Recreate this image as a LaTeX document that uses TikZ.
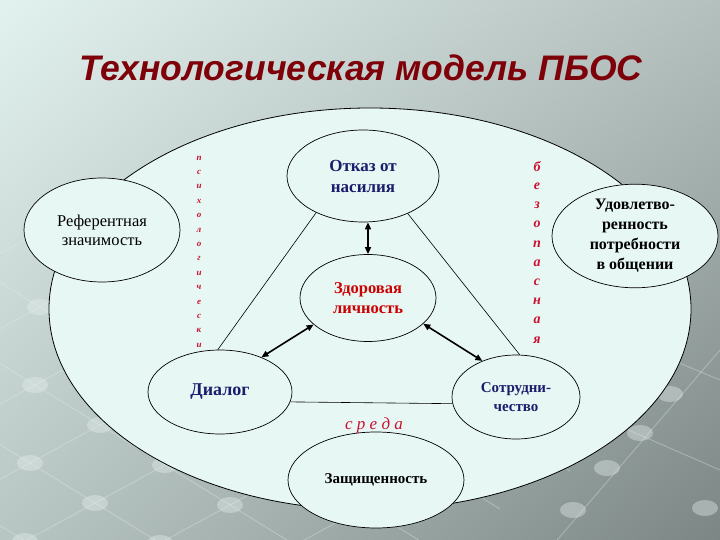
\documentclass[tikz,border=0pt]{standalone}
\usepackage{fontspec}
\setmainfont{Liberation Serif}
\newfontfamily\titlefont{Liberation Sans}
\usetikzlibrary{shapes.geometric,arrows.meta,calc,shadings}
\definecolor{bgmint}{HTML}{E2F2EE}
\definecolor{bggray}{HTML}{B4C0BE}
\definecolor{bgdark}{HTML}{7C8785}
\definecolor{bglow}{HTML}{B8C6C3}
\definecolor{fillmint}{HTML}{E6F7F4}
\definecolor{navy}{HTML}{1C1C6C}
\definecolor{redtxt}{HTML}{CC0000}
\definecolor{lettred}{HTML}{CC1030}
\definecolor{titlered}{HTML}{7E0008}
\definecolor{latt}{HTML}{E4EEEC}
\tikzset{
  ell/.style={ellipse, draw=black, line width=0.7pt, fill=fillmint, inner sep=0pt, align=center},
  tri/.style={draw=black, line width=0.6pt},
  dbl/.style={draw=black, line width=1.6pt, {Triangle[length=7pt,width=6pt]}-{Triangle[length=7pt,width=6pt]}},
  vlet/.style={text=lettred, font=\bfseries\itshape, inner sep=0pt},
  dot/.style={fill=latt, draw=none, opacity=0.4}
}
\begin{document}
\begin{tikzpicture}[x=1pt,y=-1pt]
\useasboundingbox (0,0) rectangle (720,540);
% background
\shade[upper left=bgmint, upper right=bggray, lower left=bglow, lower right=bgdark] (0,0) rectangle (720,540);
% lattice decoration
\begin{scope}[line width=0.9pt, draw=latt, opacity=0.35]
  \foreach \k in {-3,...,3} {
    \draw ($(100,425)+\k*(-70,38)+(-3*65,-3*40)$) -- ($(100,425)+\k*(-70,38)+(4*65,4*40)$);
    \draw ($(100,425)+\k*(65,40)+(-3*-70,-3*38)$) -- ($(100,425)+\k*(65,40)+(4*-70,4*38)$);
  }
  \draw (720,350) -- (540,560);
  \draw (560,400) -- (720,470);
  \draw (600,330) -- (720,380);
\end{scope}
\foreach \i in {-2,...,2} \foreach \j in {-2,...,2}
  \fill[dot] ($(100,425)+\i*(65,40)+\j*(-70,38)$) ellipse (13pt and 8pt);
\foreach \p in {(670,394),(640,433),(607,468),(573,510),(705,508)}
  \fill[dot] \p ellipse (13pt and 8pt);
% title
\node[font=\titlefont\bfseries\itshape\fontsize{35.5}{40}\selectfont, text=titlered] (title) at (361,68) {Технологическая модель ПБОС};
% big ellipse
\draw[line width=0.8pt, fill=fillmint] (370,309) ellipse (321pt and 201pt);
% ellipses
\node[ell, minimum width=156pt, minimum height=104pt, font=\fontsize{16.5}{19}\selectfont] (ref) at (102,230) {Референтная\\значимость};
\node[ell, minimum width=166pt, minimum height=102pt, font=\bfseries\fontsize{16}{20}\selectfont] (udv) at (635,236) {Удовлетво-\\ренность\\потребности\\в общении};
\node[ell, minimum width=152pt, minimum height=92pt, font=\bfseries\fontsize{17}{21}\selectfont, text=navy] (otk) at (363,176) {Отказ от\\насилия};
\node[ell, minimum width=136pt, minimum height=87pt, font=\bfseries\fontsize{16.5}{20}\selectfont, text=redtxt] (zdr) at (368,298) {Здоровая\\личность};
\node[ell, minimum width=144pt, minimum height=84pt, font=\bfseries\fontsize{18}{20}\selectfont, text=navy] (dia) at (220,392) {Диалог};
\node[ell, minimum width=128pt, minimum height=84pt, font=\bfseries\fontsize{15}{19}\selectfont, text=navy] (sot) at (516,397) {Сотрудни-\\чество};
\node[ell, minimum width=176pt, minimum height=96pt, font=\bfseries\fontsize{15}{17}\selectfont] (zas) at (376,480) {Защищенность};
% triangle
\draw[tri] (otk.218) -- (dia.93);
\draw[tri] (otk.320) -- (sot.85);
\draw[tri] (dia.352) -- (sot.186);
% arrows
\draw[dbl] (zdr.north |- otk.south) -- (zdr.north);
\draw[dbl] (dia.40) -- (zdr.206);
\draw[dbl] (zdr.335) -- (sot.133);
% vertical words
\foreach [count=\i] \l in {п,с,и,х,о,л,о,г,и,ч,е,с,к,и}
  \node[vlet, font=\bfseries\itshape\fontsize{9}{10}\selectfont] (ps\i) at (199,{158+(\i-1)*14.4}) {\l};
\foreach [count=\i] \l in {б,е,з,о,п,а,с,н,а,я}
  \node[vlet, font=\bfseries\itshape\fontsize{14}{16}\selectfont] (bz\i) at (537,{167+(\i-1)*19.2}) {\l};
\node[text=lettred, font=\itshape\fontsize{17}{20}\selectfont] (sreda) at (374,425) {с р е д а};
\end{tikzpicture}
\end{document}
